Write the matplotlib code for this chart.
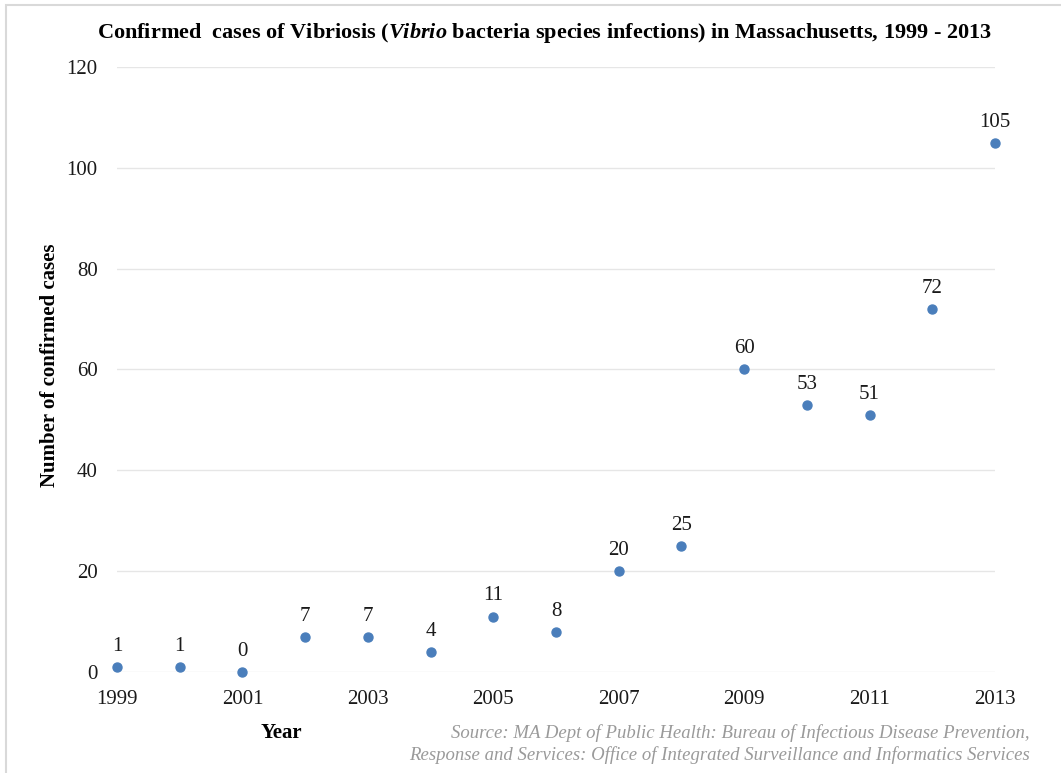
import matplotlib.pyplot as plt
from matplotlib.patches import Rectangle

years = [1999, 2000, 2001, 2002, 2003, 2004, 2005, 2006, 2007, 2008, 2009, 2010, 2011, 2012, 2013]
cases = [1, 1, 0, 7, 7, 4, 11, 8, 20, 25, 60, 53, 51, 72, 105]
xticks = [1999, 2001, 2003, 2005, 2007, 2009, 2011, 2013]
yticks = [0, 20, 40, 60, 80, 100, 120]

plt.rcParams['font.family'] = ['Liberation Serif', 'DejaVu Serif']
plt.rcParams['mathtext.fontset'] = 'custom'
plt.rcParams['mathtext.it'] = 'Liberation Serif:italic:bold'
plt.rcParams['mathtext.rm'] = 'Liberation Serif:bold'

fig = plt.figure(figsize=(10.61, 7.73), dpi=100)
ax = fig.add_axes([0.1103, 0.1307, 0.8275, 0.7826])

# light frame around the whole chart
fig.patches.append(Rectangle((6 / 1061, -0.01), 1.0, 1 - 5 / 773 + 0.01,
                             transform=fig.transFigure, fill=False,
                             edgecolor='#d9d9d9', linewidth=1.5))

ax.scatter(years, cases, s=42, color='#4a7ebb', zorder=3, clip_on=False)
for x, y in zip(years, cases):
    ax.annotate(str(y), (x, y), xytext=(0, 8), textcoords='offset points',
                ha='center', va='bottom', fontsize=15, color='#1a1a1a')

ax.set_xlim(1999, 2013)
ax.set_ylim(0, 120)
ax.set_xticks(xticks)
ax.set_yticks(yticks)
ax.tick_params(length=0, labelsize=15, colors='#1a1a1a')
ax.tick_params(axis='x', pad=13)
ax.tick_params(axis='y', pad=14)
ax.grid(axis='y', color='#e6e6e6', linewidth=1)
ax.set_axisbelow(True)
for s in ax.spines.values():
    s.set_visible(False)

fig.text(0.513, 1 - 33 / 773,
         'Confirmed  cases of Vibriosis ($\\it{Vibrio}$ bacteria species infections) in Massachusetts, 1999 - 2013',
         ha='center', va='center', fontsize=16, fontweight='bold')

fig.text(50 / 1061, 1 - 365 / 773, 'Number of confirmed cases', rotation=90, ha='center', va='center',
         fontsize=15, fontweight='bold')
fig.text(281 / 1061, 1 - 733 / 773, 'Year', ha='center', va='center',
         fontsize=15, fontweight='bold')
fig.text(1030 / 1061, 1 - 733 / 773,
         'Source: MA Dept of Public Health: Bureau of Infectious Disease Prevention,',
         ha='right', va='center', fontsize=13.5, style='italic', color='#9a9a9a')
fig.text(1030 / 1061, 1 - 755 / 773,
         'Response and Services: Office of Integrated Surveillance and Informatics Services',
         ha='right', va='center', fontsize=13.5, style='italic', color='#9a9a9a')

fig.savefig('out.png', dpi=100)
